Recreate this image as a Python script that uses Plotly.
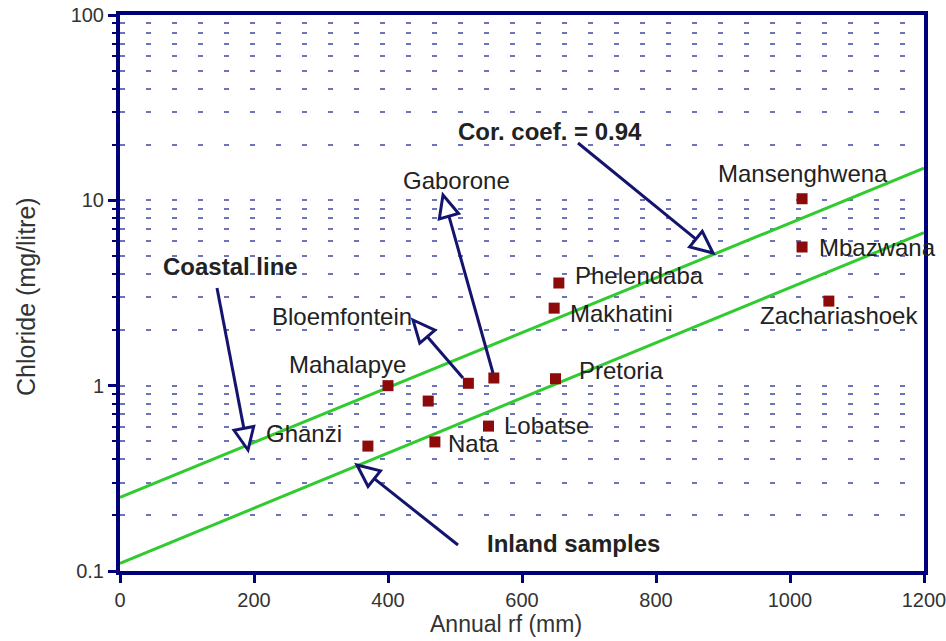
import plotly.graph_objects as go

# ---------------- data ----------------
stations = ["Mansenghwena", "Mbazwana", "Zachariashoek", "Phelendaba", "Makhatini",
            "Pretoria", "Gaborone", "Bloemfontein", "Mahalapye", "Unnamed",
            "Lobatse", "Nata", "Ghanzi"]
rainfall_mm = [1018, 1018, 1058, 655, 648, 650, 558, 520, 400, 460, 550, 470, 370]
chloride_mgl = [10.2, 5.6, 2.86, 3.58, 2.62, 1.09, 1.10, 1.03, 1.0, 0.826, 0.605, 0.497, 0.472]

line_x = [0, 1200]
coastal_line_y = [0.25, 14.9]
inland_line_y = [0.11, 6.7]

x_ticks = [0, 200, 400, 600, 800, 1000, 1200]
y_ticks = [0.1, 1, 10, 100]
y_tick_text = ["0.1", "1", "10", "100"]
y_minor = [m * d for d in (0.1, 1, 10) for m in range(2, 10)]

# ---------------- layout helpers ----------------
W, H = 946, 641
PL, PR, PT, PB = 120, 924, 15, 571  # plot area in pixels
L, T = PL, PT
R, B = W - PR, H - PB
PW, PH = PR - PL, PB - PT


def pp(px, py):
    """pixel position -> paper fraction"""
    return (px - PL) / PW, (PB - py) / PH


NAVY = "#00007a"
ARROW = "#14146e"
TXT = "#222222"
FONT = "Liberation Sans, Arial, sans-serif"

fig = go.Figure()

fig.add_trace(go.Scatter(x=line_x, y=coastal_line_y, mode="lines",
                         line=dict(color="#2fcb2f", width=3), showlegend=False))
fig.add_trace(go.Scatter(x=line_x, y=inland_line_y, mode="lines",
                         line=dict(color="#2fcb2f", width=3), showlegend=False))
fig.add_trace(go.Scatter(x=rainfall_mm, y=chloride_mgl, mode="markers",
                         marker=dict(symbol="square", size=11, color="#8c0a0a"),
                         text=stations, showlegend=False))

# labels: (text, center px, center py, bold)
labels = [
    ("Mansenghwena", 803, 173, False),
    ("Mbazwana", 877, 248, False),
    ("Zachariashoek", 839, 315, False),
    ("Phelendaba", 639, 275, False),
    ("Makhatini", 621, 313, False),
    ("Pretoria", 621, 370, False),
    ("Lobatse", 546, 425, False),
    ("Nata", 473, 443, False),
    ("Ghanzi", 304, 433, False),
    ("Mahalapye", 347, 364, False),
    ("Bloemfontein", 342, 316, False),
    ("Gaborone", 456, 180, False),
    ("Cor. coef. = 0.94", 550, 131, True),
    ("Coastal line", 230, 266, True),
    ("Inland samples", 573, 543, True),
]
annotations = []
for txt, px, py, bold in labels:
    fx, fy = pp(px, py)
    annotations.append(dict(
        x=fx, y=fy, xref="paper", yref="paper", showarrow=False,
        text=f"<b>{txt}</b>" if bold else txt,
        xanchor="center", yanchor="middle",
        font=dict(family=FONT, size=24, color=TXT)))

# axis titles
fx, fy = pp(506, 624)
annotations.append(dict(x=fx, y=fy, xref="paper", yref="paper", showarrow=False,
                        text="Annual rf (mm)", xanchor="center", yanchor="middle",
                        font=dict(family=FONT, size=23, color="#333333")))
fx, fy = pp(26, 297)
annotations.append(dict(x=fx, y=fy, xref="paper", yref="paper", showarrow=False,
                        text="Chloride (mg/litre)", textangle=-90,
                        xanchor="center", yanchor="middle",
                        font=dict(family=FONT, size=25, color="#333333")))

# hollow-headed arrows: (tail px, tail py, tip px, tip py)
arrows = [
    (578, 143, 713, 253),
    (493, 373, 443, 195),
    (217, 288, 248, 450),
    (463, 378, 413, 320),
    (458, 545, 357, 465),
]
shapes = []
HL, HW = 22, 10
for sx, sy, tx, ty in arrows:
    dx, dy = tx - sx, ty - sy
    n = (dx * dx + dy * dy) ** 0.5
    ux, uy = dx / n, dy / n
    bx, by = tx - HL * ux, ty - HL * uy
    nx, ny = -uy, ux
    p1 = pp(bx + HW * nx, by + HW * ny)
    p2 = pp(bx - HW * nx, by - HW * ny)
    pt = pp(tx, ty)
    a0 = pp(sx, sy)
    b0 = pp(bx, by)
    shapes.append(dict(type="line", xref="paper", yref="paper",
                       x0=a0[0], y0=a0[1], x1=b0[0], y1=b0[1],
                       line=dict(color=ARROW, width=3)))
    shapes.append(dict(type="path", xref="paper", yref="paper",
                       path=f"M{pt[0]},{pt[1]} L{p1[0]},{p1[1]} L{p2[0]},{p2[1]} Z",
                       fillcolor="white", line=dict(color=ARROW, width=3)))

fig.update_layout(
    width=W, height=H,
    margin=dict(l=L, r=R, t=T, b=B, autoexpand=False),
    plot_bgcolor="white", paper_bgcolor="white",
    font=dict(family=FONT, color="#333333"),
    annotations=annotations,
    shapes=shapes,
    xaxis=dict(
        range=[0, 1200], tickvals=x_ticks, automargin=False,
        ticklabeloverflow="allow",
        showline=True, linecolor=NAVY, linewidth=4, mirror=True,
        ticks="outside", ticklen=8, tickwidth=3, tickcolor=NAVY,
        showgrid=False, zeroline=False,
        tickfont=dict(size=20, color="#333333"),
    ),
    yaxis=dict(
        type="log", range=[-1, 2], tickvals=y_ticks, ticktext=y_tick_text,
        automargin=False, ticklabeloverflow="allow",
        showline=True, linecolor=NAVY, linewidth=4, mirror=True,
        ticks="outside", ticklen=8, tickwidth=3, tickcolor=NAVY,
        showgrid=True, gridcolor="#6d74b8", gridwidth=2, griddash="5px,21px",
        zeroline=False,
        tickfont=dict(size=20, color="#333333"),
        minor=dict(tickmode="array", tickvals=y_minor, ticks="outside", ticklen=4,
                   tickwidth=2, tickcolor=NAVY, showgrid=True, gridcolor="#6d74b8",
                   gridwidth=2, griddash="5px,21px"),
    ),
)

fig.write_html("out.html", config={"displayModeBar": False},
               post_script="document.body.style.margin='0';document.body.style.overflow='hidden';")
